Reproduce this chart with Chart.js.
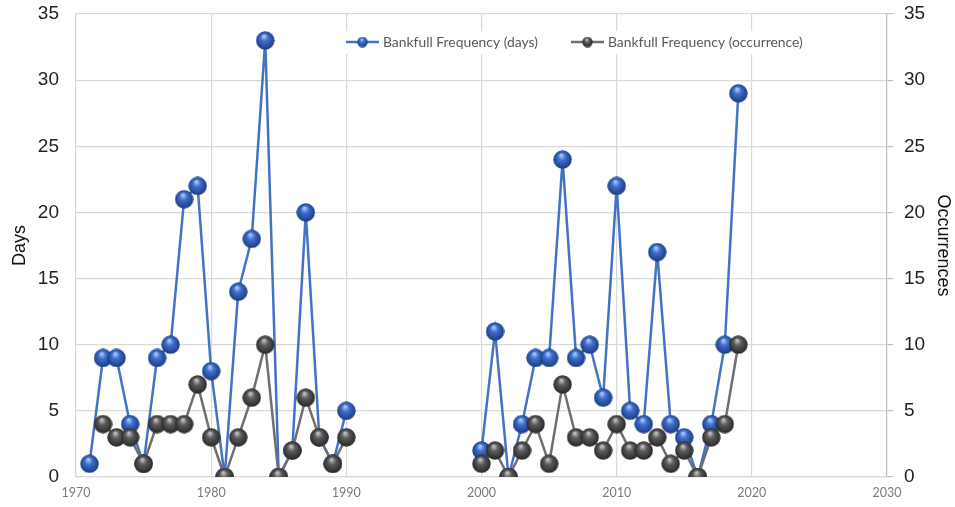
<!DOCTYPE html>
<html>
<head>
<meta charset="utf-8">
<script src="https://cdn.jsdelivr.net/npm/chart.js@4.4.1/dist/chart.umd.min.js"></script>
<style>
  html, body { margin: 0; padding: 0; background: #fff; }
  #wrap { width: 955px; height: 507px; position: relative; }
</style>
</head>
<body>
<div id="wrap"><canvas id="bankfullChart"></canvas></div>
<script>
// Bankfull frequency — days vs occurrences per year

const years = [1971, 1972, 1973, 1974, 1975, 1976, 1977, 1978, 1979, 1980,
               1981, 1982, 1983, 1984, 1985, 1986, 1987, 1988, 1989, 1990,
               2000, 2001, 2002, 2003, 2004, 2005, 2006, 2007, 2008, 2009,
               2010, 2011, 2012, 2013, 2014, 2015, 2016, 2017, 2018, 2019];
const daysValues = [1, 9, 9, 4, 1, 9, 10, 21, 22, 8,
                    0, 14, 18, 33, 0, 2, 20, 3, 1, 5,
                    2, 11, 0, 4, 9, 9, 24, 9, 10, 6,
                    22, 5, 4, 17, 4, 3, 0, 4, 10, 29];
const occurrenceValues = [null, 4, 3, 3, 1, 4, 4, 4, 7, 3,
                          0, 3, 6, 10, 0, 2, 6, 3, 1, 3,
                          1, 2, 0, 2, 4, 1, 7, 3, 3, 2,
                          4, 2, 2, 3, 1, 2, 0, 3, 4, 10];
const seriesNames = ["Bankfull Frequency (days)", "Bankfull Frequency (occurrence)"];
const yTicks = [0, 5, 10, 15, 20, 25, 30, 35];
const xTicks = [1970, 1980, 1990, 2000, 2010, 2020, 2030];

// points avec un trou entre 1990 et 2000
function toPoints(vals) {
  const pts = [];
  years.forEach((yr, i) => {
    if (i > 0 && yr - years[i - 1] > 1) pts.push({ x: (yr + years[i - 1]) / 2, y: null });
    pts.push({ x: yr, y: vals[i] });
  });
  return pts;
}

// petites sphères (dégradé radial)
function sphere(size, light, mid, dark) {
  const c = document.createElement("canvas");
  c.width = size; c.height = size;
  const g = c.getContext("2d");
  const r = size / 2;
  const grad = g.createRadialGradient(r * 0.85, r * 0.5, 0, r, r, r);
  grad.addColorStop(0, light);
  grad.addColorStop(0.4, mid);
  grad.addColorStop(1, dark);
  g.fillStyle = grad;
  g.beginPath();
  g.arc(r, r, r - 0.3, 0, Math.PI * 2);
  g.fill();
  return c;
}
const blueBall = sphere(19, "#c4d8ff", "#3d6fd0", "#1a3a7c");
const grayBall = sphere(19, "#d6d6d6", "#5c5c5c", "#262626");
const blueBallSmall = sphere(11, "#c4d8ff", "#3d6fd0", "#1a3a7c");
const grayBallSmall = sphere(11, "#d6d6d6", "#5c5c5c", "#262626");

const lineColors = ["#4472C4", "#6f6f6f"];
const gridColor = "#d9d9d9";

const ctx = document.getElementById("bankfullChart").getContext("2d");

const chart = new Chart(ctx, {
  type: "line",
  data: {
    datasets: [
      {
        label: seriesNames[0],
        data: toPoints(daysValues),
        borderColor: lineColors[0],
        borderWidth: 2.5,
        pointStyle: blueBall,
        spanGaps: false,
        order: 2,
        yAxisID: "y"
      },
      {
        label: seriesNames[1],
        data: toPoints(occurrenceValues),
        borderColor: lineColors[1],
        borderWidth: 2.5,
        pointStyle: grayBall,
        spanGaps: false,
        order: 1,
        yAxisID: "y1"
      }
    ]
  },
  options: {
    responsive: true,
    maintainAspectRatio: false,
    animation: false,
    layout: { padding: { top: 14, left: 0, right: 0, bottom: 0 } },
    scales: {
      x: {
        type: "linear",
        min: 1970,
        max: 2030,
        afterBuildTicks: s => { s.ticks = xTicks.map(v => ({ value: v })); },
        afterFit: s => { s.height = 30; },
        ticks: {
          callback: v => String(v),
          color: "#7a7a7a",
          font: { family: "Lato", size: 12.5 },
          padding: 8,
          maxRotation: 0
        },
        grid: { color: gridColor, lineWidth: 1.2, drawTicks: false },
        border: { color: gridColor, width: 1.2 }
      },
      y: {
        position: "left",
        min: 0,
        max: 35,
        afterBuildTicks: s => { s.ticks = yTicks.map(v => ({ value: v })); },
        afterFit: s => { s.width = 76; s.paddingTop = 0; s.paddingBottom = 0; },
        title: {
          display: true,
          text: "Days",
          color: "#111",
          font: { family: "Liberation Sans", size: 18 },
          padding: { top: 9, bottom: 0 }
        },
        ticks: {
          color: "#222",
          font: { family: "Liberation Sans", size: 19 },
          padding: 17
        },
        grid: { color: gridColor, lineWidth: 1.2, drawTicks: false },
        border: { color: gridColor, width: 1.2 }
      },
      y1: {
        position: "right",
        min: 0,
        max: 35,
        afterBuildTicks: s => { s.ticks = yTicks.map(v => ({ value: v })); },
        afterFit: s => { s.width = 68; s.paddingTop = 0; s.paddingBottom = 0; },
        title: {
          display: true,
          text: "Occurrences",
          color: "#111",
          font: { family: "Liberation Sans", size: 18 },
          padding: { top: 1, bottom: 0 }
        },
        ticks: {
          color: "#222",
          font: { family: "Liberation Sans", size: 19 },
          padding: 11
        },
        grid: { drawOnChartArea: false, color: "#bfbfbf", lineWidth: 1.2, tickLength: 6 },
        border: { color: "#bfbfbf", width: 1.2 }
      }
    },
    plugins: {
      legend: { display: false },
      tooltip: { enabled: false }
    }
  },
  plugins: [{
    // légende dans la zone du graphe, comme l'original
    id: "insideLegend",
    afterDraw: c => {
      const g = c.ctx;
      const area = c.chartArea;
      const cy = 42;
      g.save();
      g.fillStyle = "#fff";
      g.fillRect(area.left + 264, cy - 11, 476, 23);
      g.font = "13.9px Lato";
      g.textBaseline = "middle";
      g.fillStyle = "#595959";
      const items = [
        { x0: area.left + 270, color: lineColors[0], ball: blueBallSmall, text: seriesNames[0] },
        { x0: area.left + 495, color: lineColors[1], ball: grayBallSmall, text: seriesNames[1] }
      ];
      items.forEach(it => {
        g.strokeStyle = it.color;
        g.lineWidth = 2.5;
        g.beginPath();
        g.moveTo(it.x0, cy);
        g.lineTo(it.x0 + 33, cy);
        g.stroke();
        g.drawImage(it.ball, it.x0 + 16.5 - it.ball.width / 2, cy - it.ball.height / 2);
        g.fillText(it.text, it.x0 + 37, cy + 1);
      });
      g.restore();
    }
  }]
});
</script>
</body>
</html>
